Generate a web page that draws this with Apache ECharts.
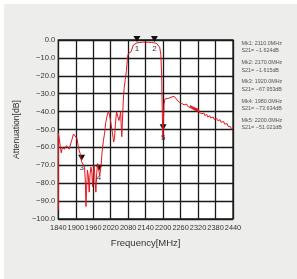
<!DOCTYPE html>
<html><head><meta charset="utf-8">
<script src="https://cdn.jsdelivr.net/npm/echarts@6/dist/echarts.min.js"></script>
<style>
html,body{margin:0;padding:0;background:#fff;width:297px;height:279px;overflow:hidden;}
#wrap{position:absolute;left:4px;top:4px;width:293px;height:275px;background:#ededec;}
#c{width:293px;height:275px;}
</style></head>
<body><div id="wrap"><div id="c"></div></div>
<script>
// Frequency (MHz) of each trace point
const freqs = [1840,1840,1843,1847,1850,1854,1858,1861,1864,1868,1873,1877,1881,1886,1892,1897,1904,1908,1912,1916,1920,1925,1930,1933,1935,1937,1940,1943,1946,1949,1952,1955,1958,1961,1963,1966,1969,1972,1975,1978,1980,1982,1984,1987,1990,1995,1999,2003,2008,2012,2016,2020,2026,2030,2033,2036,2040,2044,2048,2051,2054,2056,2058,2060,2063,2066,2070,2074,2078,2081,2085,2090,2094,2098,2104,2110,2120,2130,2140,2150,2160,2170,2178,2184,2188,2192,2195,2197,2199,2200,2201,2203,2206,2212,2220,2230,2238,2244,2248,2255,2260,2264,2268,2272,2275,2278,2281,2284,2286,2288,2290,2292,2294,2296,2298,2300,2302,2304,2306,2308,2310,2312,2314,2316,2318,2320,2322,2324,2326,2328,2330,2333,2335,2338,2340,2343,2345,2348,2350,2353,2355,2358,2360,2363,2366,2369,2372,2375,2378,2381,2384,2387,2390,2393,2396,2399,2402,2405,2408,2411,2414,2417,2420,2423,2426,2429,2432,2434,2436,2438,2440];
// Attenuation S21 (dB) at each point
const s21 = [-95,-52,-55,-60,-63,-60,-59.5,-61,-62,-59,-58,-61,-60.5,-56,-52.5,-53,-55,-59,-62,-64,-68,-69,-71,-80,-93,-84,-72.6,-76,-85,-75,-71,-74,-82,-73,-70,-78,-85,-74,-69,-72,-73.6,-76,-77,-70,-63,-56,-52,-46,-42,-40,-42,-46,-52,-57,-55,-47,-40,-41,-45,-43,-40,-48,-54,-46,-34,-27,-22,-17,-9,-7.5,-7.2,-6.5,-4.5,-2.8,-2.1,-1.6,-1.4,-1.2,-1.2,-1.3,-1.4,-1.6,-2.0,-2.8,-4,-8,-20,-40,-55,-51,-45,-36,-33,-33,-32.5,-31.8,-31.5,-32,-33.5,-34.8,-34.5,-35.5,-35,-36.2,-35.3,-36.4,-35.8,-37,-35.9,-37.4,-36.2,-37.8,-36.5,-38.2,-36.8,-38.6,-37.2,-39,-37.4,-39.3,-37.8,-39.5,-38,-39.8,-38.4,-40.2,-38.9,-40.5,-39.4,-40.8,-40,-41.2,-40.3,-41.7,-40.8,-42.2,-41.2,-42.6,-41.6,-43,-42,-43.4,-42.3,-43.6,-42.6,-44,-43,-44.3,-43.3,-44.6,-43.8,-45,-44.1,-45.4,-44.6,-46,-45,-46.4,-45.5,-47,-46,-47.5,-46.8,-48.2,-47.5,-49,-48.5,-50];
// Markers
const markerNames = ['1','2','3','4','5'];
const markerFreqs = [2110,2170,1920,1980,2200];
const markerVals = [-1.624,-1.615,-67.953,-73.634,-51.021];
// Tick labels
const xTicks = [1840,1900,1960,2020,2080,2140,2200,2260,2320,2380,2440];
const yMin = -100, yMax = 0, yStep = 10;

const F0 = xTicks[0];
const fmtDb = v => (v < 0 ? '\u2212' : '') + Math.abs(v).toFixed(1);
const fmtDb3 = v => (v < 0 ? '\u2212' : '') + Math.abs(v).toFixed(3);

const lineData = freqs.map((f,i)=>[f-F0, s21[i]]);
const mp = markerNames.map((n,i)=>({name:n, coord:[markerFreqs[i]-F0, markerVals[i]]}));

const sideTexts = [];
markerNames.forEach((n,i)=>{
  sideTexts.push({type:'text', left:237.5, top:37 + i*19.2,
    style:{text:'Mk'+n+': '+markerFreqs[i].toFixed(1)+'MHz', fill:'#555', font:'5.4px "Liberation Sans", Arial, sans-serif'}});
  sideTexts.push({type:'text', left:237.5, top:44.5 + i*19.2,
    style:{text:'S21= '+fmtDb3(markerVals[i])+'dB', fill:'#555', font:'5.4px "Liberation Sans", Arial, sans-serif'}});
});

const chart = echarts.init(document.getElementById('c'), null, {renderer:'canvas'});
chart.setOption({
  backgroundColor:'#ededec',
  animation:false,
  grid:{left:54, top:36, width:175, height:179, show:true, backgroundColor:'#fff', borderColor:'#1a1a1a', borderWidth:1.3},
  xAxis:{type:'value', min:0, max:xTicks[xTicks.length-1]-F0, interval:60,
    name:'Frequency[MHz]', nameLocation:'middle', nameGap:19,
    nameTextStyle:{fontSize:9.5, color:'#333', fontFamily:'"Liberation Sans", Arial, sans-serif'},
    axisLine:{show:false}, axisTick:{show:false},
    axisLabel:{fontSize:7.4, color:'#333', margin:5, fontFamily:'"Liberation Sans Narrow", "Liberation Sans", sans-serif', formatter:v=>String(v+F0)},
    splitLine:{show:true, lineStyle:{color:'#1a1a1a', width:1.3}}},
  yAxis:{type:'value', min:yMin, max:yMax, interval:yStep,
    name:'Attenuation[dB]', nameLocation:'middle', nameGap:29, nameRotate:90,
    nameTextStyle:{fontSize:8.6, color:'#333', fontFamily:'"Liberation Sans", Arial, sans-serif'},
    axisLine:{show:false}, axisTick:{show:false},
    axisLabel:{fontSize:7.6, color:'#333', margin:3, fontFamily:'"Liberation Sans", Arial, sans-serif', formatter:fmtDb},
    splitLine:{show:true, lineStyle:{color:'#1a1a1a', width:1.3}}},
  graphic: sideTexts,
  series:[{
    type:'line', data:lineData, showSymbol:false, symbol:'none',
    lineStyle:{color:'#e3161d', width:1}, z:5,
    markPoint:{
      symbol:'path://M0,0L10,0L5,8Z', symbolSize:[7,6], symbolOffset:[0,-4],
      itemStyle:{color:'#111'},
      label:{show:true, position:'bottom', distance:3, formatter:'{b}', color:'#333', fontSize:8, fontFamily:'"Liberation Sans", Arial, sans-serif'},
      data: mp
    }
  }]
});
</script></body></html>
